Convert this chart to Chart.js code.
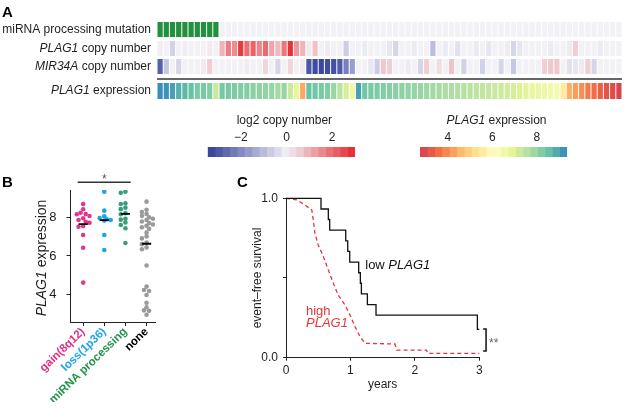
<!DOCTYPE html>
<html><head><meta charset="utf-8">
<script src="https://cdn.jsdelivr.net/npm/chart.js@4.4.0/dist/chart.umd.min.js"></script>
<style>
html,body{margin:0;padding:0;background:#fff;}
body{width:625px;height:410px;position:relative;overflow:hidden;}
canvas{position:absolute;}
</style></head><body>
<canvas id="heat" style="left:0px;top:0px" width="625" height="106"></canvas>
<canvas id="cbCopy" style="left:180px;top:105px" width="200" height="60"></canvas>
<canvas id="cbExpr" style="left:390px;top:105px" width="210" height="60"></canvas>
<canvas id="panelB" style="left:0px;top:165px" width="200" height="245"></canvas>
<canvas id="panelC" style="left:200px;top:165px" width="425" height="245"></canvas>
<script>
// ---------------- DATA ----------------
// Panel A: 75 tumours (columns)
const mirnaMut = [1,1,1,1,1,1,1,1,1,1, 0,0,0,0,0,0,0,0,0,0, 0,0,0,0,0,0,0,0,0,0, 0,0,0,0,0,0,0,0,0,0, 0,0,0,0,0,0,0,0,0,0, 0,0,0,0,0,0,0,0,0,0, 0,0,0,0,0,0,0,0,0,0, 0,0,0,0,0];
const plag1Copy = [0.05,0,-0.6,0,0.05,0,0,0,0.1,0,
  0.9,1.7,1.5,2.7,1.9,2.1,1.6,2.0,1.1,0.8,
  1.8,2.8,1.3,0.9,0.1,0.7,0,0.1,0,0,
  -0.7,0,0,-0.1,0,0,0,-0.2,-0.5,0,
  0,-0.1,0,0,-1.0,0,-0.1,0,-0.3,0,
  0,-0.1,0,-0.2,0,0,0.1,-0.5,-0.2,0,
  0,0,0,-0.1,0,0,0.1,0.5,0,0,
  0,-0.1,0,0,0];
const mir34aCopy = [-2.8,-0.8,0,-0.5,0,0,0,0.1,0.5,0,
  0,0,0,0,0.1,0,0,0.4,0,-0.5,
  0,0.4,0,0.1,-3.0,-3.2,-3.3,-3.2,-3.1,-2.9,
  -2.2,-1.6,0,0,-0.2,-0.7,0.6,0.5,0,0,
  0.1,0,-0.5,0.5,0,0.3,0,0.7,0,-0.6,
  0,0,-0.6,0,0,-0.5,0,-0.8,0,0,
  0,0,0.5,0.6,0.6,0,-0.3,-0.2,0.1,0.5,
  -0.5,0,0,0,0];
const plag1Expr = [9.27,9.2,9.0,8.77,8.65,8.52,8.28,8.3,8.2,7.29,
  8.35,8.3,8.25,8.2,8.15,8.1,8.05,8.0,7.95,7.8,
  7.9,7.3,6.8,4.32,8.5,8.4,8.3,8.2,7.9,7.5,
  7.1,6.6,9.0,8.4,8.3,8.25,8.2,8.15,8.1,8.05,
  8.0,7.95,7.9,7.85,7.8,7.75,7.7,7.65,7.6,7.55,
  7.5,7.45,7.4,7.35,7.3,7.25,7.2,7.1,7.0,6.9,
  6.8,6.7,6.6,6.5,6.4,5.5,4.4,4.2,4.0,3.74,
  3.55,3.35,3.15,3.0,2.85];
const rowLabels = [
  [['miRNA processing mutation', false]],
  [['PLAG1', true], [' copy number', false]],
  [['MIR34A', true], [' copy number', false]],
  [['PLAG1', true], [' expression', false]]
];
// colour scales
const copyRange = [-3.45, 3.0];
const copyTicks = [-2, 0, 2];
const exprRange = [2.75, 9.35];
const exprTicks = [4, 6, 8];

// Panel B: PLAG1 expression by group
const groupNames = ['gain(8q12)', 'loss(1p36)', 'miRNA processing', 'none'];
const gainVals = [8.72,8.44,8.26,8.19,8.18,8.09,7.97,7.88,7.79,7.74,7.57,7.53,7.1,6.43,4.61];
const lossVals = [9.36,8.37,8.08,7.98,7.92,7.88,7.85,7.1,6.31];
const mirnaVals = [9.36,9.31,8.75,8.72,8.52,8.45,8.24,8.18,7.95,7.9,7.75,7.62,7.45,6.68];
const noneVals = [8.84,8.42,8.3,8.2,8.1,8.02,7.95,7.88,7.8,7.72,7.65,7.58,7.5,7.42,7.22,7.02,6.92,6.7,6.62,6.45,6.35,5.5,4.4,4.22,4.17,3.96,3.55,3.32,3.16,3.14,2.93];
const groupMedians = [7.67, 7.88, 8.2, 6.64];
const bTicks = [4, 6, 8];

// Panel C: event-free survival (years, fraction)
const lowTimes = [0,0.543,0.657,0.678,0.927,0.958,0.989,1.128,1.154,1.17,1.263,1.397,2.97,3.0];
const lowSurv  = [1,0.933,0.867,0.8,0.733,0.667,0.6,0.533,0.467,0.4,0.333,0.267,0.178,0.178];
const highTimes = [0,0.166,0.295,0.40,0.424,0.45,0.5,0.58,0.657,0.735,0.81,0.916,0.994,1.07,1.15,1.227,1.46,1.69,1.72,2.18,2.2,3.0];
const highSurv  = [1.0,0.99,0.958,0.927,0.864,0.78,0.707,0.634,0.55,0.467,0.393,0.33,0.268,0.195,0.132,0.09,0.088,0.086,0.048,0.048,0.027,0.027];
const cYTicks = [0, 0.5, 1];
const cXTicks = [0, 1, 2, 3];

// ---------------- STYLE HELPERS ----------------
const FONT = '"Liberation Sans", Arial, Helvetica, sans-serif';
Chart.defaults.font.family = FONT;
Chart.defaults.font.size = 12;
Chart.defaults.color = '#1e1e1e';
const INK = '#1e1e1e';

function hex2rgb(h){h=h.replace('#','');return [parseInt(h.substr(0,2),16),parseInt(h.substr(2,2),16),parseInt(h.substr(4,2),16)];}
function mix(a,b,f){const A=hex2rgb(a),B=hex2rgb(b);return 'rgb('+A.map((v,i)=>Math.round(v+(B[i]-v)*f)).join(',')+')';}
const SPECTRAL=['#9e0142','#d53e4f','#f46d43','#fdae61','#fee08b','#ffffbf','#e6f598','#abdda4','#66c2a5','#3288bd','#5e4fa2'];
function spectral(t){t=Math.max(0,Math.min(1,t));const p=t*10;const i=Math.min(9,Math.floor(p));return mix(SPECTRAL[i],SPECTRAL[i+1],p-i);}
function exprColor(v){return spectral(0.1+0.8*(v-exprRange[0])/(exprRange[1]-exprRange[0]));}
const NEUTRAL='#f1f1f6', CBLUE='#3a479f', CRED='#e6262b', MUTGREEN='#23903f';
function copyColor(v){return v<0?mix(NEUTRAL,CBLUE,Math.min(1,-v/3.3)):mix(NEUTRAL,CRED,Math.min(1,v/3.0));}
function mutColor(v){return v?MUTGREEN:NEUTRAL;}

function drawRich(ctx,segs,x,y,align,size,color){
  const w=segs.map(([t,it])=>{ctx.font=(it?'italic ':'')+size+'px '+FONT;return ctx.measureText(t).width;});
  const tot=w.reduce((a,b)=>a+b,0);
  let cx=align==='right'?x-tot:align==='center'?x-tot/2:x;
  ctx.fillStyle=color;ctx.textBaseline='middle';ctx.textAlign='left';
  segs.forEach(([t,it],i)=>{ctx.font=(it?'italic ':'')+size+'px '+FONT;ctx.fillText(t,cx,y);cx+=w[i];});
}
function letter(ctx,t,x,y){ctx.save();ctx.font='bold 15px '+FONT;ctx.fillStyle='#000';ctx.textBaseline='alphabetic';ctx.textAlign='left';ctx.fillText(t,x,y);ctx.restore();}
const baseOpts={responsive:false,animation:false,events:[],plugins:{legend:{display:false},tooltip:{enabled:false}}};

// ---------------- PANEL A: heatmap ----------------
const sampleIds = plag1Expr.map((_,i)=>'T'+(i+1));
const heatRows=[
  {values:mirnaMut,color:mutColor},
  {values:plag1Copy,color:copyColor},
  {values:mir34aCopy,color:copyColor},
  {values:plag1Expr,color:exprColor}
];
const rowSpan=[[0,15],[19,34],[37,52],[61,77]];
const sepAt=57;
new Chart(document.getElementById('heat'),{
  type:'bar',
  data:{labels:sampleIds,datasets:heatRows.map((r,k)=>({
    data:r.values.map(()=>rowSpan[k]),
    backgroundColor:r.values.map(r.color),
    borderWidth:0,grouped:false,barPercentage:0.84,categoryPercentage:1
  }))},
  options:{...baseOpts,
    layout:{padding:{left:157,right:3,top:22,bottom:7}},
    scales:{x:{type:'category',display:false,offset:true},y:{type:'linear',display:false,min:0,max:77,reverse:true}}
  },
  plugins:[{id:'heatText',afterDraw(chart){
    const ctx=chart.ctx,ys=chart.scales.y,ca=chart.chartArea;
    ctx.save();
    rowLabels.forEach((segs,k)=>{
      const yc=(ys.getPixelForValue(rowSpan[k][0])+ys.getPixelForValue(rowSpan[k][1]))/2;
      drawRich(ctx,segs,151,yc,'right',12,INK);
    });
    const yl=ys.getPixelForValue(sepAt);
    ctx.strokeStyle='#333';ctx.lineWidth=1.5;ctx.beginPath();ctx.moveTo(ca.left,yl);ctx.lineTo(ca.right,yl);ctx.stroke();
    letter(ctx,'A',2,17);
    ctx.restore();
  }}]
});

// ---------------- colour bars ----------------
function colorBar(id,range,ticks,colorFn,title,padL,padR){
  const NB=20,w=(range[1]-range[0])/NB;
  const ds=[];
  for(let b=0;b<NB;b++){const lo=range[0]+b*w;ds.push({data:[[lo,lo+w]],backgroundColor:colorFn(lo+w/2),borderWidth:0,grouped:false,barPercentage:1,categoryPercentage:1});}
  new Chart(document.getElementById(id),{
    type:'bar',
    data:{labels:['bar'],datasets:ds},
    options:{...baseOpts,indexAxis:'y',
      layout:{padding:{left:padL,right:padR,top:22,bottom:8}},
      scales:{
        x:{type:'linear',position:'top',min:range[0],max:range[1],
          afterBuildTicks:s=>{s.ticks=ticks.map(v=>({value:v}));},
          afterFit:s=>{s.height=20;},
          ticks:{padding:2,font:{size:12},color:INK,callback:v=>(v<0?'\u2212'+Math.abs(v):String(v))},
          grid:{display:false,drawTicks:false},border:{display:false}},
        y:{type:'category',display:false}
      }},
    plugins:[{id:'cbTitle',afterDraw(chart){
      const ca=chart.chartArea;chart.ctx.save();
      drawRich(chart.ctx,title,(ca.left+ca.right)/2+3,16,'center',12,INK);
      chart.ctx.restore();
    }}]
  });
}
colorBar('cbCopy',copyRange,copyTicks,copyColor,[['log2 copy number',false]],27.7,25);
colorBar('cbExpr',exprRange,exprTicks,exprColor,[['PLAG1',true],[' expression',false]],30,33);

// ---------------- PANEL B ----------------
const groupVals=[gainVals,lossVals,mirnaVals,noneVals];
const dotColors=['#e2368c','#1ba6e2','#3a9f78','#9a9a9a'];
const labelColors=['#e0308a','#1ba6e2','#22934a','#000000'];
function swarm(values,center){
  const pxX=21.1,pxY=19.1,minD=3.6,offs=[0,-0.12,0.12,-0.22,0.22,-0.3,0.3];
  const placed=[],out=new Array(values.length);
  values.map((v,i)=>i).sort((a,b)=>values[b]-values[a]).forEach(i=>{
    const v=values[i];
    let o=offs.find(o=>placed.every(p=>Math.hypot((p.o-o)*pxX,(p.v-v)*pxY)>=minD));
    if(o===undefined)o=0;
    placed.push({o,v});out[i]={x:center+o,y:v};
  });
  return out;
}
const bDatasets=[];
groupMedians.forEach((m,g)=>bDatasets.push({type:'line',data:[{x:g+1-0.22,y:m},{x:g+1+0.22,y:m}],borderColor:'#000',borderWidth:1.8,pointRadius:0,showLine:true,order:0}));
groupVals.forEach((vals,g)=>bDatasets.push({type:'scatter',data:swarm(vals,g+1),backgroundColor:dotColors[g],borderWidth:0,pointRadius:2.3,order:1}));
new Chart(document.getElementById('panelB'),{
  type:'scatter',
  data:{datasets:bDatasets},
  options:{...baseOpts,
    layout:{padding:{left:30.5,right:45,top:25,bottom:8}},
    scales:{
      x:{type:'linear',min:0.4,max:4.4,
        afterBuildTicks:s=>{s.ticks=groupNames.map((_,i)=>({value:i+1}));},
        afterFit:s=>{s.height=80;},
        ticks:{autoSkip:false,minRotation:44,maxRotation:44,padding:-1,font:{size:11.5,weight:'bold'},color:c=>labelColors[c.index],callback:(v,i)=>groupNames[i]},
        grid:{drawOnChartArea:false,drawTicks:true,tickLength:4,color:'#222'},border:{display:true,color:'#222'}},
      y:{type:'linear',min:2.55,max:9.45,
        afterBuildTicks:s=>{s.ticks=bTicks.map(v=>({value:v}));},
        afterFit:s=>{s.width=40;},
        ticks:{padding:10,color:INK,font:{size:13}},
        grid:{drawOnChartArea:false,drawTicks:true,tickLength:4,color:'#222'},border:{display:true,color:'#222'}}
    }},
  plugins:[{id:'bText',afterDraw(chart){
    const ctx=chart.ctx,ca=chart.chartArea,xs=chart.scales.x,ys=chart.scales.y;
    ctx.save();
    ctx.translate(42,(ca.top+ca.bottom)/2+2);ctx.rotate(-Math.PI/2);
    drawRich(ctx,[['PLAG1',true],[' expression',false]],0,0,'center',14,INK);
    ctx.restore();ctx.save();
    const yb=ys.getPixelForValue(9.85);
    ctx.strokeStyle='#333';ctx.lineWidth=1.5;ctx.beginPath();
    ctx.moveTo(xs.getPixelForValue(0.74),yb);ctx.lineTo(xs.getPixelForValue(3.25),yb);ctx.stroke();
    ctx.font='12px '+FONT;ctx.fillStyle='#555';ctx.textAlign='center';ctx.textBaseline='alphabetic';
    ctx.fillText('*',xs.getPixelForValue(2),yb+1);
    letter(ctx,'B',2,22);
    ctx.restore();
  }}]
});

// ---------------- PANEL C ----------------
new Chart(document.getElementById('panelC'),{
  type:'line',
  data:{datasets:[
    {label:'low PLAG1',data:lowTimes.map((t,i)=>({x:t,y:lowSurv[i]})),borderColor:'#111',borderWidth:1.3,stepped:true,pointRadius:0,fill:false,clip:false},
    {label:'high PLAG1',data:highTimes.map((t,i)=>({x:t,y:highSurv[i]})),borderColor:'#e0363c',borderWidth:1.3,borderDash:[4,3],tension:0,pointRadius:0,fill:false,clip:false}
  ]},
  options:{...baseOpts,
    layout:{padding:{left:46,right:145.7,top:33.3,bottom:13.8}},
    scales:{
      x:{type:'linear',min:0,max:3,
        afterBuildTicks:s=>{s.ticks=cXTicks.map(v=>({value:v}));},
        afterFit:s=>{s.height=38.5;},
        ticks:{padding:3,color:INK,callback:v=>String(v)},
        title:{display:true,text:'years',color:INK,font:{size:12},padding:{top:4,bottom:4}},
        grid:{drawOnChartArea:false,drawTicks:true,tickLength:3,color:'#222'},border:{display:true,color:'#222'}},
      y:{type:'linear',min:0,max:1,
        afterBuildTicks:s=>{s.ticks=cYTicks.map(v=>({value:v}));},
        afterFit:s=>{s.width=40;},
        ticks:{padding:5,color:INK,callback:v=>(v===0.5?'':v.toFixed(1))},
        title:{display:true,text:'event\u2013free survival',color:INK,font:{size:12},padding:{top:4,bottom:4}},
        grid:{drawOnChartArea:false,drawTicks:true,tickLength:3,color:'#222'},border:{display:true,color:'#222'}}
    }},
  plugins:[{id:'cText',afterDraw(chart){
    const ctx=chart.ctx,xs=chart.scales.x,ys=chart.scales.y;
    ctx.save();
    drawRich(ctx,[['low ',false],['PLAG1',true]],xs.getPixelForValue(1.23),ys.getPixelForValue(0.58),'left',13,'#111');
    drawRich(ctx,[['high',false]],xs.getPixelForValue(0.31),ys.getPixelForValue(0.29),'left',13,'#e0363c');
    drawRich(ctx,[['PLAG1',true]],xs.getPixelForValue(0.31),ys.getPixelForValue(0.218),'left',13,'#e0363c');
    const bx=xs.getPixelForValue(3.105),bx0=xs.getPixelForValue(3.06),bt=ys.getPixelForValue(0.18),bb=ys.getPixelForValue(0.042);
    ctx.strokeStyle='#111';ctx.lineWidth=1.5;ctx.beginPath();
    ctx.moveTo(bx0,bt);ctx.lineTo(bx,bt);ctx.lineTo(bx,bb);ctx.lineTo(bx0,bb);ctx.stroke();
    ctx.font='12px '+FONT;ctx.fillStyle='#666';ctx.textAlign='left';ctx.textBaseline='alphabetic';
    ctx.fillText('**',xs.getPixelForValue(3.15),ys.getPixelForValue(0.11)+6.6);
    letter(ctx,'C',37,22);
    ctx.restore();
  }}]
});
</script>
</body></html>
